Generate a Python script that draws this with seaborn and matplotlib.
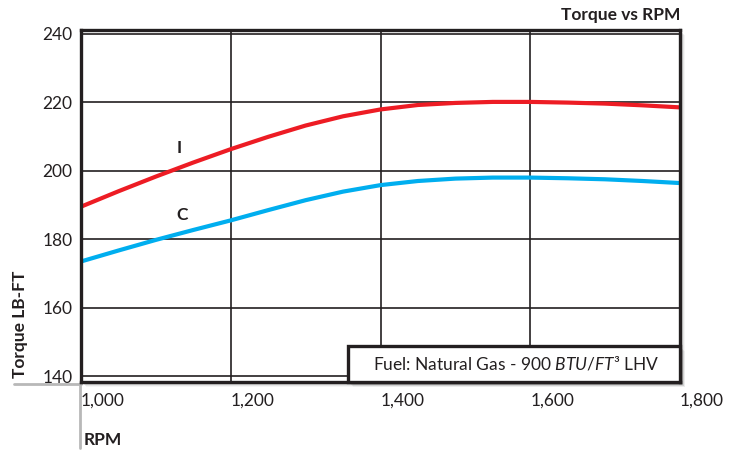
import pandas as pd
import matplotlib
matplotlib.use("Agg")
import matplotlib.pyplot as plt
import seaborn as sns
from matplotlib.patches import Rectangle
from matplotlib.lines import Line2D
from matplotlib import transforms

# values (every 50 rpm)
rpm = [1000, 1050, 1100, 1150, 1200, 1250, 1300, 1350, 1400,
       1450, 1500, 1550, 1600, 1650, 1700, 1750, 1800]
torque_i = [189.5, 194.0, 198.3, 202.4, 206.3, 209.9, 213.2, 215.9, 217.9,
            219.2, 219.8, 220.1, 220.1, 219.9, 219.6, 219.1, 218.5]
torque_c = [173.5, 176.7, 179.8, 182.7, 185.5, 188.5, 191.4, 193.9, 195.8,
            197.0, 197.7, 198.0, 198.0, 197.8, 197.5, 197.0, 196.4]
series_names = ["I", "C"]
x_ticks = [1000, 1200, 1400, 1600, 1800]
x_labels = ["1,000", "1,200", "1,400", "1,600", "1,800"]
y_ticks = [140, 160, 180, 200, 220, 240]

dark = "#231F20"
colors = {"I": "#ED1C24", "C": "#00AEEF"}

df = pd.DataFrame({
    "rpm": rpm * 2,
    "torque": torque_i + torque_c,
    "engine": ["I"] * len(rpm) + ["C"] * len(rpm),
})

sns.set_theme(style="white")
plt.rcParams["font.family"] = ["Lato", "DejaVu Sans"]
plt.rcParams["mathtext.fontset"] = "custom"
plt.rcParams["mathtext.rm"] = "Lato"
plt.rcParams["mathtext.it"] = "Lato:italic"
plt.rcParams["mathtext.bf"] = "Lato:bold"

W, H = 739, 457
fig = plt.figure(figsize=(W / 100, H / 100), dpi=100)
L, R, T, B = 81, 680, 30, 382
ax = fig.add_axes([L / W, 1 - B / H, (R - L) / W, (B - T) / H])
ax.set_zorder(2)

# soft drop shadow behind the frame
for i, a in enumerate([0.25, 0.18, 0.12, 0.07]):
    off = i + 2
    fig.add_artist(Rectangle(((L + off) / W, 1 - (B + off) / H), (R - L) / W, (B - T) / H,
                             transform=fig.transFigure, facecolor="#777777", edgecolor="none",
                             alpha=a, zorder=0))

sns.lineplot(data=df, x="rpm", y="torque", hue="engine", hue_order=series_names,
             palette=colors, linewidth=3.0, legend=False, ax=ax, zorder=3)
for ln in ax.lines:
    ln.set_solid_joinstyle("round")

# the frame sits a little outside the 140/240 grid in the original
ax.set_xlim(1000, 1800)
ax.set_ylim(138.3, 241.1)
ax.set_xticks(x_ticks)
ax.set_xticklabels(x_labels, ha="left")
ax.set_yticks(y_ticks)
ax.set_yticklabels([str(v) for v in y_ticks])
ax.tick_params(axis="both", length=0, labelsize=12.5, labelcolor=dark)
ax.tick_params(axis="y", pad=6)
ax.tick_params(axis="x", pad=8)

ax.grid(True, color=dark, linewidth=1.2)
for s in ax.spines.values():
    s.set_visible(True)
    s.set_color(dark)
    s.set_linewidth(2.4)
    s.set_zorder(5)

ax.set_title("Torque vs RPM", loc="right", fontsize=12.5, fontweight="bold", color=dark, pad=7)
ax.set_ylabel("Torque LB-FT", loc="bottom", fontsize=12.5, fontweight="bold", color=dark)
ax.yaxis.set_label_coords((28 - L) / (R - L), (B - 378) / (B - T))
ax.set_xlabel("RPM", loc="left", fontsize=12.5, fontweight="bold", color=dark)
ax.xaxis.set_label_coords((84 - L) / (R - L), (B - 432) / (B - T))

# curve labels
ax.text(1131, 206.7, "I", ha="center", va="center", fontsize=12.5, fontweight="bold", color=dark, zorder=4)
ax.text(1135, 187.1, "C", ha="center", va="center", fontsize=12.5, fontweight="bold", color=dark, zorder=4)

# fuel note box in the lower right corner
bx0 = (348 - L) / (R - L)
bh = (B - 346) / (B - T)
for i, a in enumerate([0.25, 0.18, 0.12, 0.07]):
    off = i + 2
    tr = transforms.offset_copy(ax.transAxes, fig=fig, x=off, y=-off, units="dots")
    ax.add_patch(Rectangle((bx0, 0), 1 - bx0, bh, transform=tr, facecolor="#777777",
                           edgecolor="none", alpha=a, zorder=5, clip_on=False))
ax.add_patch(Rectangle((bx0, 0), 1 - bx0, bh, transform=ax.transAxes, facecolor="white",
                       edgecolor=dark, linewidth=2.4, zorder=6, clip_on=False))
ax.text((bx0 + 1) / 2 + 0.004, bh / 2, "Fuel: Natural Gas - 900 $\\mathit{BTU/FT}$\u00b3 LHV",
        transform=ax.transAxes, ha="center", va="center", fontsize=12.5, color=dark, zorder=7)

# grey guide lines outside the frame
fig.add_artist(Line2D([14 / W, L / W], [1 - 383.5 / H] * 2, color="#B8B8B8", linewidth=2.0,
                      transform=fig.transFigure, zorder=1))
fig.add_artist(Line2D([80 / W, 80 / W], [1 - 383 / H, 1 - 448 / H], color="#B8B8B8", linewidth=2.0,
                      transform=fig.transFigure, zorder=1))

fig.savefig("out.png", dpi=100)
